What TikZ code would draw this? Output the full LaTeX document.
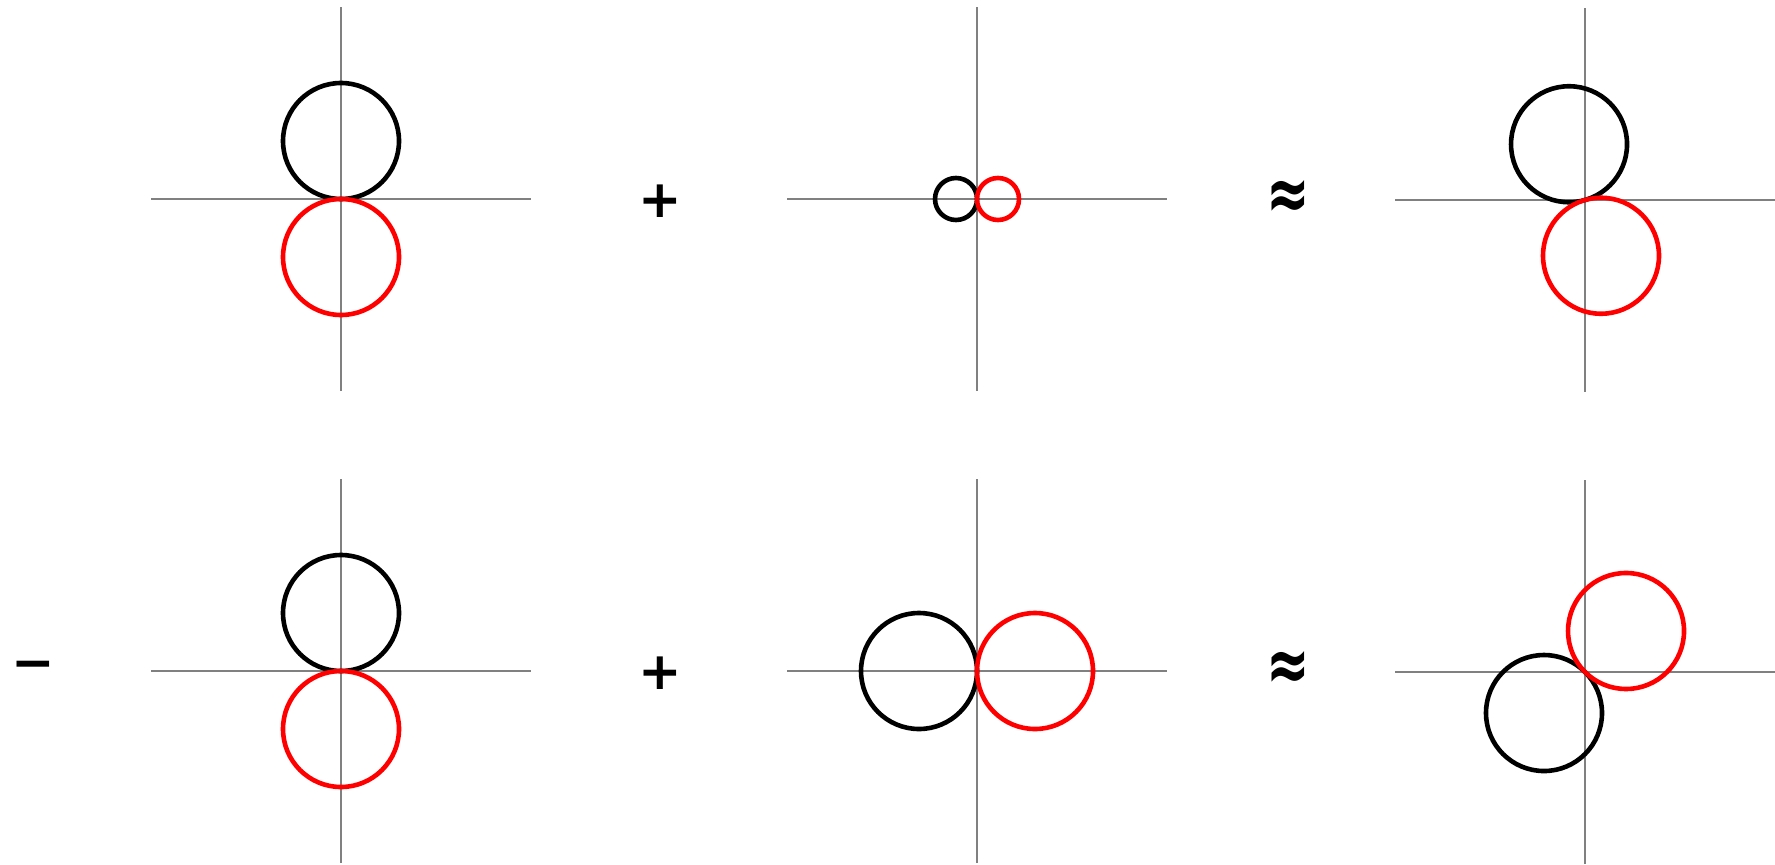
\documentclass[tikz,border=0pt]{standalone}
\usepackage{fontspec}
\setmainfont{DejaVu Sans}
\usetikzlibrary{positioning,calc}
\tikzset{
  axis/.style={draw=black!50,line width=0.8pt},
  ring/.style={draw=black,line width=2.3pt},
  redring/.style={draw=red,line width=2.3pt},
  op/.style={font=\fontsize{26}{26}\selectfont\bfseries,inner sep=0pt},
}
\newcommand{\axespair}[1]{\draw[axis] ($(#1)+(-190,0)$)--($(#1)+(190,0)$);\draw[axis] ($(#1)+(0,-192)$)--($(#1)+(0,192)$);}
\newcommand{\tallapprox}{\scalebox{1}[1.45]{≈}}

\begin{document}
\begin{tikzpicture}[x=0.5pt,y=0.5pt]
\useasboundingbox (0,0) rectangle (1775,864);
% panel origins, top row then bottom row
\coordinate (o1) at (341,665);\coordinate (o2) at (977,665);\coordinate (o3) at (1585,664);
\coordinate (o4) at (341,193);\coordinate (o5) at (977,193);\coordinate (o6) at (1585,192);
\foreach \o in {o1,o2,o3,o4,o5,o6}{\axespair{\o}}
% top row
\draw[ring] ($(o1)+(0,58)$) circle[radius=58];\draw[redring] ($(o1)+(0,-58)$) circle[radius=58];
\draw[ring] ($(o2)+(-21,0)$) circle[radius=21];\draw[redring] ($(o2)+(21,0)$) circle[radius=21];
\draw[ring] ($(o3)+(106:58)$) circle[radius=58];\draw[redring] ($(o3)+(286:58)$) circle[radius=58];
% bottom row
\draw[ring] ($(o4)+(0,58)$) circle[radius=58];\draw[redring] ($(o4)+(0,-58)$) circle[radius=58];
\draw[ring] ($(o5)+(-58,0)$) circle[radius=58];\draw[redring] ($(o5)+(58,0)$) circle[radius=58];
\draw[ring] ($(o6)+(225:58)$) circle[radius=58];\draw[redring] ($(o6)+(45:58)$) circle[radius=58];
% operators
\node[op] (plus1) at (660,663) {+};\node[op] (approx1) at (1288,664) {\tallapprox};
\node[op] (minus2) at (33,193) {−};\node[op] (plus2) at (660,191) {+};\node[op] (approx2) at (1288,193) {\tallapprox};
\end{tikzpicture}
\end{document}
